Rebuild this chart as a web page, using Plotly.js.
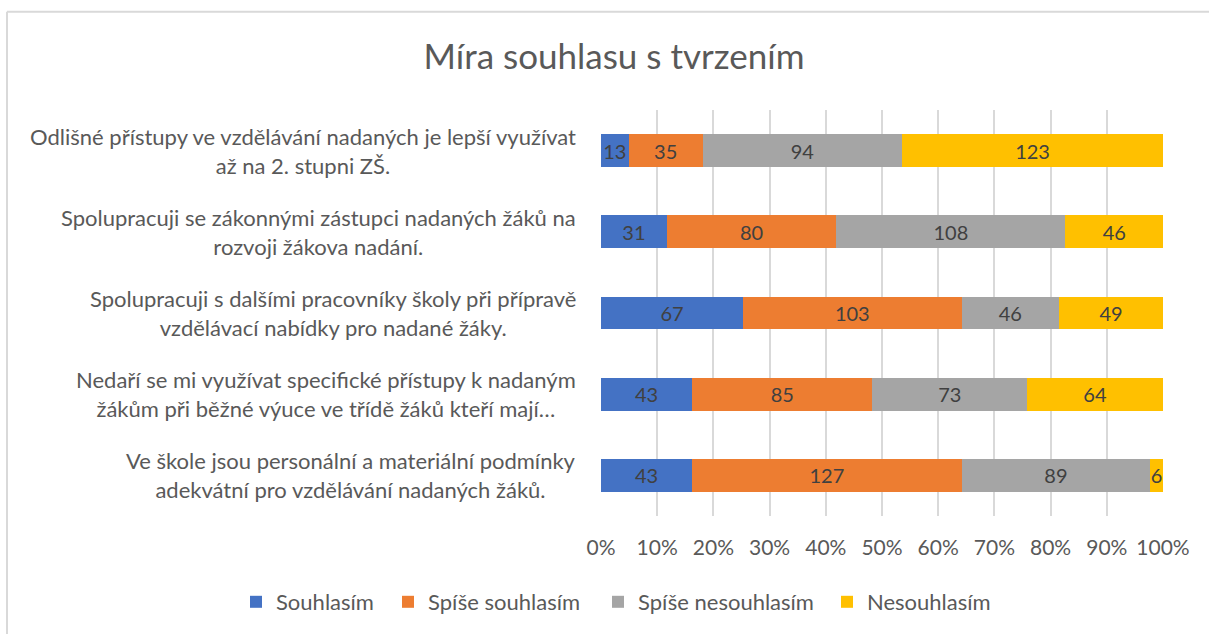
<!DOCTYPE html>
<html>
<head>
<meta charset="utf-8">
<script src="https://cdn.plot.ly/plotly-3.0.1.min.js"></script>
<style>
  html, body { margin: 0; padding: 0; background: #ffffff; }
  #chart { width: 1209px; height: 634px; }
</style>
</head>
<body>
<div id="chart"></div>
<script>
// ---- Data ----
const categories = [
  "Odlišné přístupy ve vzdělávání nadaných je lepší využívat<br>až na 2. stupni ZŠ.",
  "Spolupracuji se zákonnými zástupci nadaných žáků na<br>rozvoji žákova nadání.",
  "Spolupracuji s dalšími pracovníky školy při přípravě<br>vzdělávací nabídky pro nadané žáky.",
  "Nedaří se mi využívat specifické přístupy k nadaným<br>žákům při běžné výuce ve třídě žáků kteří mají…",
  "Ve škole jsou personální a materiální podmínky<br>adekvátní pro vzdělávání nadaných žáků."
];
const seriesNames = ["Souhlasím", "Spíše souhlasím", "Spíše nesouhlasím", "Nesouhlasím"];
const souhlasim        = [13, 31, 67, 43, 43];
const spiseSouhlasim   = [35, 80, 103, 85, 127];
const spiseNesouhlasim = [94, 108, 46, 73, 89];
const nesouhlasim      = [123, 46, 49, 64, 6];
const tickLabels = ["0%", "10%", "20%", "30%", "40%", "50%", "60%", "70%", "80%", "90%", "100%"];
const tickValues = [0, 10, 20, 30, 40, 50, 60, 70, 80, 90, 100];
const colors = ["#4472C4", "#ED7D31", "#A5A5A5", "#FFC000"];

const seriesValues = [souhlasim, spiseSouhlasim, spiseNesouhlasim, nesouhlasim];

// ---- Layout geometry (pixels) ----
const W = 1209, H = 634;
const M = { l: 601, r: 46, t: 110, b: 117 };
const plotW = W - M.l - M.r, plotH = H - M.t - M.b;
const px2x = p => (p - M.l) / plotW;
const py2y = p => (H - M.b - p) / plotH;

const FONT = "Lato, 'Open Sans', sans-serif";
const legendIds = ["legend", "legend2", "legend3", "legend4"];
const legendLeftPx = [236, 388, 598, 827];

const traces = seriesValues.map((vals, i) => ({
  type: "bar",
  orientation: "h",
  name: seriesNames[i],
  legend: legendIds[i],
  y: categories,
  x: vals,
  text: vals.map(String),
  texttemplate: "%{text}",
  textposition: "inside",
  insidetextanchor: "middle",
  constraintext: "none",
  textfont: { family: FONT, size: 20, color: "#404040" },
  marker: { color: colors[i], line: { width: 0 } },
  hoverinfo: "name+text"
}));

const annotations = categories.map(c => ({
  xref: "paper", yref: "y",
  x: px2x(578), y: c,
  xanchor: "right", yanchor: "middle",
  align: "center",
  text: c,
  showarrow: false,
  font: { family: FONT, size: 22, color: "#595959" }
}));

const border = "#D9D9D9";
const shapes = [
  { type: "line", xref: "paper", yref: "paper", x0: px2x(7), x1: px2x(W + 5), y0: py2y(11.5), y1: py2y(11.5), line: { color: border, width: 2 } },
  { type: "line", xref: "paper", yref: "paper", x0: px2x(7), x1: px2x(7), y0: py2y(11.5), y1: py2y(H + 5), line: { color: border, width: 2 } }
];

const layout = {
  width: W, height: H,
  margin: M,
  paper_bgcolor: "#ffffff",
  plot_bgcolor: "#ffffff",
  barmode: "stack",
  barnorm: "percent",
  bargap: 0.595,
  title: {
    text: "Míra souhlasu s tvrzením",
    font: { family: FONT, size: 35, color: "#595959" },
    xref: "container", x: 614 / W, xanchor: "center",
    yref: "container", y: 1 - 57 / H, yanchor: "middle"
  },
  xaxis: {
    range: [0, 100],
    tickvals: tickValues,
    ticktext: tickLabels,
    showgrid: true,
    gridcolor: "#D9D9D9",
    gridwidth: 2,
    zeroline: false,
    showline: false,
    ticks: "",
    ticklabelstandoff: 17,
    tickfont: { family: FONT, size: 21, color: "#595959" },
    automargin: false,
    fixedrange: true
  },
  yaxis: {
    categoryorder: "array",
    categoryarray: categories,
    autorange: "reversed",
    showticklabels: false,
    showgrid: false,
    zeroline: false,
    showline: false,
    ticks: "",
    automargin: false,
    fixedrange: true
  },
  showlegend: true,
  annotations: annotations,
  shapes: shapes
};

legendIds.forEach((id, i) => {
  layout[id] = {
    orientation: "h",
    xref: "paper", x: px2x(legendLeftPx[i]), xanchor: "left",
    yref: "paper", y: py2y(602), yanchor: "middle",
    font: { family: FONT, size: 22, color: "#595959" },
    bgcolor: "rgba(0,0,0,0)"
  };
});

Plotly.newPlot("chart", traces, layout, { displayModeBar: false, staticPlot: true });
</script>
</body>
</html>
